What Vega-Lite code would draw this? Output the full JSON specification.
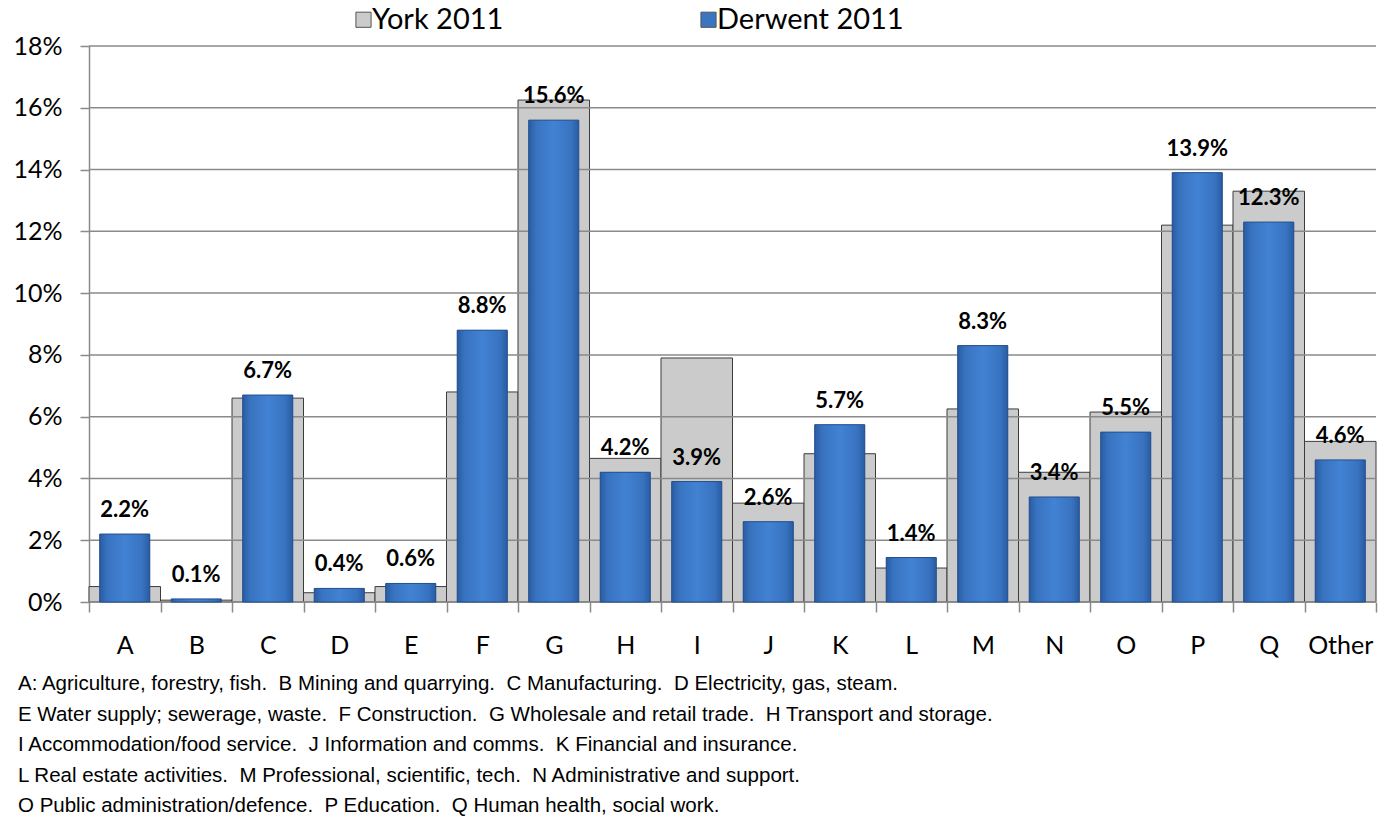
{
  "$schema": "https://vega.github.io/schema/vega-lite/v6.json",
  "autosize": "none",
  "width": 1287,
  "height": 556,
  "padding": {"left": 89, "top": 46, "right": 13, "bottom": 223},
  "background": "white",
  "config": {"view": {"stroke": null}, "font": "Lato"},
  "datasets": {
    "sectors": [
      {"cat": "A", "york": 0.005, "derwent": 0.022},
      {"cat": "B", "york": 0.0006, "derwent": 0.001},
      {"cat": "C", "york": 0.066, "derwent": 0.067},
      {"cat": "D", "york": 0.003, "derwent": 0.0044},
      {"cat": "E", "york": 0.005, "derwent": 0.006},
      {"cat": "F", "york": 0.068, "derwent": 0.088},
      {"cat": "G", "york": 0.1625, "derwent": 0.156},
      {"cat": "H", "york": 0.0465, "derwent": 0.042},
      {"cat": "I", "york": 0.079, "derwent": 0.039},
      {"cat": "J", "york": 0.032, "derwent": 0.026},
      {"cat": "K", "york": 0.048, "derwent": 0.0574},
      {"cat": "L", "york": 0.011, "derwent": 0.0144},
      {"cat": "M", "york": 0.0625, "derwent": 0.083},
      {"cat": "N", "york": 0.042, "derwent": 0.034},
      {"cat": "O", "york": 0.0615, "derwent": 0.055},
      {"cat": "P", "york": 0.122, "derwent": 0.139},
      {"cat": "Q", "york": 0.133, "derwent": 0.123},
      {"cat": "Other", "york": 0.052, "derwent": 0.046}
    ],
    "grid": [
      {"g": 0}, {"g": 0.02}, {"g": 0.04}, {"g": 0.06}, {"g": 0.08},
      {"g": 0.10}, {"g": 0.12}, {"g": 0.14}, {"g": 0.16}, {"g": 0.18}
    ]
  },
  "title": {
    "text": [
      "A: Agriculture, forestry, fish.\u00a0 B Mining and quarrying.\u00a0 C Manufacturing.\u00a0 D Electricity, gas, steam.",
      "E Water supply; sewerage, waste.\u00a0 F Construction.\u00a0 G Wholesale and retail trade.\u00a0 H Transport and storage.",
      "I Accommodation/food service.\u00a0 J Information and comms.\u00a0 K Financial and insurance.",
      "L Real estate activities.\u00a0 M Professional, scientific, tech.\u00a0 N Administrative and support.",
      "O Public administration/defence.\u00a0 P Education.\u00a0 Q Human health, social work."
    ],
    "orient": "bottom",
    "anchor": "start",
    "frame": "group",
    "dx": -71,
    "offset": 16,
    "font": "Liberation Sans",
    "fontSize": 20.5,
    "fontWeight": "normal",
    "color": "#000000",
    "lineHeight": 30.5,
    "baseline": "top"
  },
  "layer": [
    {
      "data": {"name": "sectors"},
      "mark": {"type": "bar", "width": {"band": 1}, "stroke": "#3c3c3c", "strokeWidth": 1},
      "encoding": {
        "x": {
          "field": "cat",
          "type": "nominal",
          "sort": null,
          "scale": {"paddingInner": 0, "paddingOuter": 0},
          "axis": {
            "title": null,
            "labelAngle": 0,
            "tickBand": "extent",
            "tickSize": 10,
            "tickColor": "#8a8a8a",
            "tickWidth": 1.5,
            "domain": false,
            "labelFontSize": 25,
            "labelColor": "#000000",
            "labelPadding": 21,
            "grid": false
          }
        },
        "y": {
          "field": "york",
          "type": "quantitative",
          "scale": {"domain": [0, 0.18], "nice": false},
          "axis": {
            "title": null,
            "format": ".0%",
            "values": [0, 0.02, 0.04, 0.06, 0.08, 0.1, 0.12, 0.14, 0.16, 0.18],
            "grid": false,
            "tickSize": 9,
            "tickColor": "#8a8a8a",
            "tickWidth": 1.5,
            "domainColor": "#8a8a8a",
            "domainWidth": 1.5,
            "labelFontSize": 25,
            "labelColor": "#000000",
            "labelPadding": 18
          }
        },
        "color": {
          "datum": "York 2011",
          "type": "nominal",
          "scale": {"domain": ["York 2011", "Derwent 2011"], "range": ["#cbcbcb", "#3a75c2"]},
          "legend": {
            "title": null,
            "orient": "none",
            "direction": "horizontal",
            "legendX": 260,
            "legendY": -41,
            "symbolType": "square",
            "symbolSize": 230,
            "symbolStrokeColor": "#555555",
            "symbolStrokeWidth": 1,
            "labelFontSize": 29,
            "labelColor": "#000000",
            "labelOffset": -6,
            "labelLimit": 400,
            "columnPadding": 190
          }
        }
      }
    },
    {
      "data": {"name": "grid"},
      "mark": {"type": "rule", "color": "#8a8a8a", "strokeWidth": 1.5},
      "encoding": {"y": {"field": "g", "type": "quantitative"}}
    },
    {
      "data": {"name": "sectors"},
      "mark": {"type": "bar", "width": {"band": 0.7}},
      "encoding": {
        "x": {"field": "cat", "type": "nominal", "sort": null},
        "y": {"field": "derwent", "type": "quantitative"},
        "color": {"datum": "Derwent 2011", "type": "nominal"}
      }
    },
    {
      "data": {"name": "sectors"},
      "mark": {
        "type": "bar",
        "width": {"band": 0.7},
        "stroke": "#24508e",
        "strokeWidth": 1,
        "color": {
          "gradient": "linear",
          "x1": 0, "y1": 0, "x2": 1, "y2": 0,
          "stops": [
            {"offset": 0, "color": "#2a5ca2"},
            {"offset": 0.15, "color": "#3873c0"},
            {"offset": 0.5, "color": "#4282d3"},
            {"offset": 0.85, "color": "#3873c0"},
            {"offset": 1, "color": "#2a5ca2"}
          ]
        }
      },
      "encoding": {
        "x": {"field": "cat", "type": "nominal", "sort": null},
        "y": {"field": "derwent", "type": "quantitative"}
      }
    },
    {
      "data": {"name": "sectors"},
      "mark": {"type": "text", "fontWeight": "bold", "fontSize": 22, "color": "#000000", "baseline": "alphabetic", "dy": -17},
      "encoding": {
        "x": {"field": "cat", "type": "nominal", "sort": null},
        "y": {"field": "derwent", "type": "quantitative"},
        "text": {"field": "derwent", "type": "quantitative", "format": ".1%"}
      }
    }
  ]
}
